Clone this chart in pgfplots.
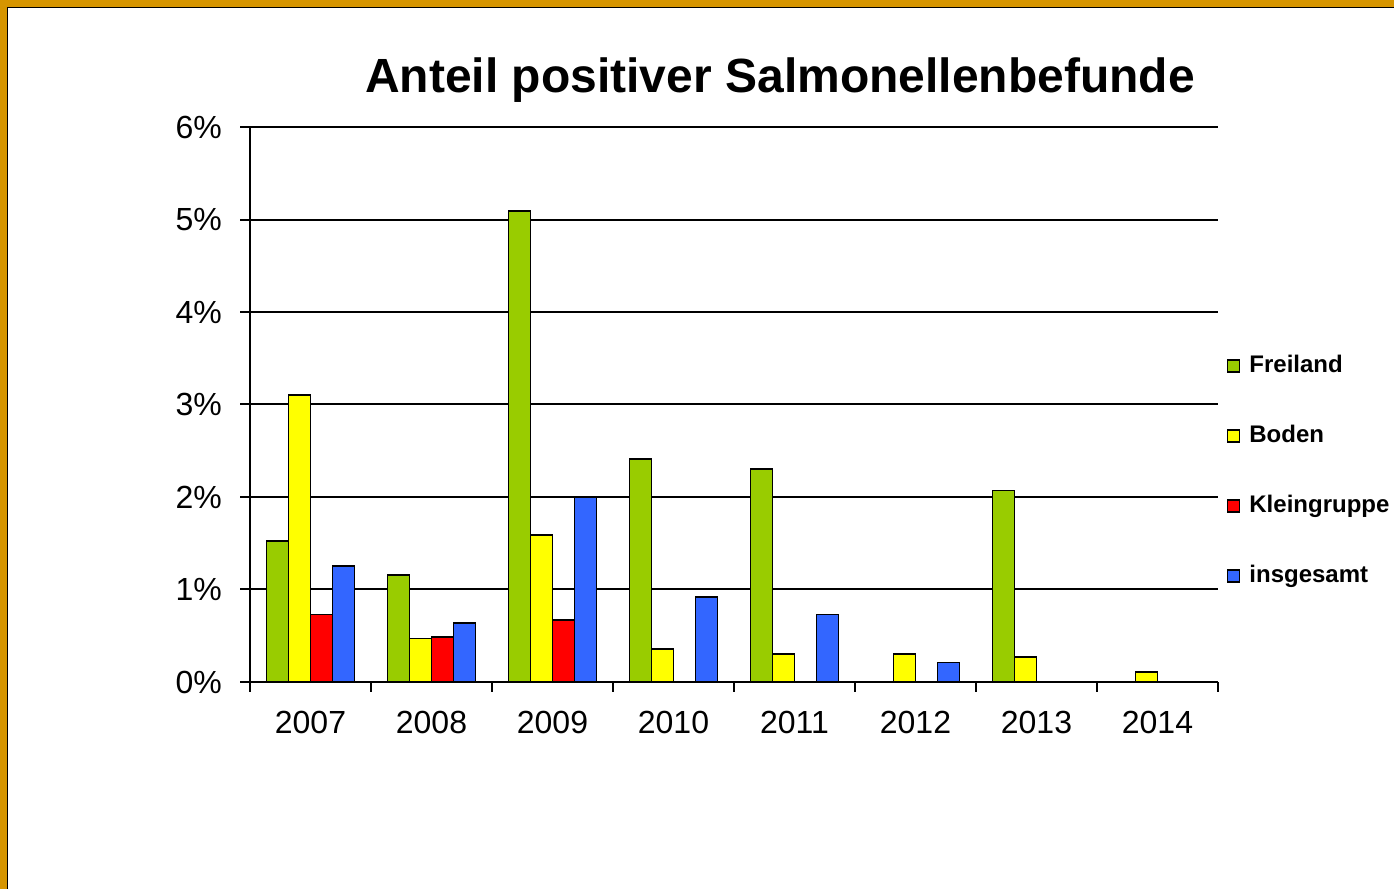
\documentclass[border=0pt]{standalone}
\usepackage{fontspec}
\setmainfont{Liberation Sans}
\usepackage{pgfplots}
\pgfplotsset{compat=1.18}
\definecolor{cFrei}{HTML}{99CC00}
\definecolor{cBoden}{HTML}{FFFF00}
\definecolor{cKlein}{HTML}{FF0000}
\definecolor{cGes}{HTML}{3366FF}
\definecolor{cBorder}{HTML}{D69500}
\begin{document}
\begin{tikzpicture}
\useasboundingbox (0,0) rectangle (697pt,444.5pt);
\fill[white] (0,0) rectangle (697pt,444.5pt);
\fill[cBorder] (0,0) rectangle (3.5pt,444.5pt);
\fill[cBorder] (0,441pt) rectangle (697pt,444.5pt);
\draw[black, line width=0.7pt] (3.85pt,0) -- (3.85pt,440.65pt) -- (697pt,440.65pt);
\node[font=\bfseries\fontsize{24}{28}\selectfont] at (390pt,404.5pt) {Anteil positiver Salmonellenbefunde};
\begin{axis}[
  at={(125pt,103.5pt)}, anchor=south west,
  scale only axis, width=484pt, height=277.5pt,
  xmin=-0.5, xmax=7.5, ymin=0, ymax=6,
  ybar=0pt, bar width=11pt,
  axis x line*=bottom, axis y line*=left,
  axis line style={black, line width=1pt},
  ytick={0,1,2,3,4,5,6},
  yticklabels={0\%,1\%,2\%,3\%,4\%,5\%,6\%},
  xtick={0,1,2,3,4,5,6,7},
  xticklabels={2007,2008,2009,2010,2011,2012,2013,2014},
  minor xtick={-0.5,0.5,1.5,2.5,3.5,4.5,5.5,6.5,7.5},
  major x tick style={draw=none},
  tick align=outside,
  major tick length=5pt, minor tick length=5pt,
  tick style={black, line width=1pt},
  ymajorgrids, grid style={black, line width=1pt},
  ticklabel style={font=\fontsize{16}{19}\selectfont},
  yticklabel style={xshift=-5.5pt},
  xticklabel style={yshift=-6pt},
  legend style={at={(1.0025,0.380)}, anchor=west, draw=none, fill=none,
    font=\bfseries\fontsize{12}{14}\selectfont, row sep=23pt, column sep=4.5pt,
    nodes={inner sep=0pt, text height=9pt, text depth=3pt}},
  legend cell align=left,
]
\addplot[fill=cFrei, draw=black, line width=0.9pt,
  legend image code/.code={\draw[fill=cFrei,draw=black,line width=0.8pt] (0pt,-3pt) rectangle (6pt,3pt);}]
  coordinates {(0,1.52) (1,1.16) (2,5.09) (3,2.41) (4,2.30) (6,2.07)};
\addplot[fill=cBoden, draw=black, line width=0.9pt,
  legend image code/.code={\draw[fill=cBoden,draw=black,line width=0.8pt] (0pt,-3pt) rectangle (6pt,3pt);}]
  coordinates {(0,3.10) (1,0.47) (2,1.59) (3,0.36) (4,0.30) (5,0.30) (6,0.27) (7,0.105)};
\addplot[fill=cKlein, draw=black, line width=0.9pt,
  legend image code/.code={\draw[fill=cKlein,draw=black,line width=0.8pt] (0pt,-3pt) rectangle (6pt,3pt);}]
  coordinates {(0,0.73) (1,0.49) (2,0.67)};
\addplot[fill=cGes, draw=black, line width=0.9pt,
  legend image code/.code={\draw[fill=cGes,draw=black,line width=0.8pt] (0pt,-3pt) rectangle (6pt,3pt);}]
  coordinates {(0,1.25) (1,0.64) (2,2.00) (3,0.92) (4,0.73) (5,0.21)};
\legend{Freiland,Boden,Kleingruppe,insgesamt}
\end{axis}
\end{tikzpicture}
\end{document}
